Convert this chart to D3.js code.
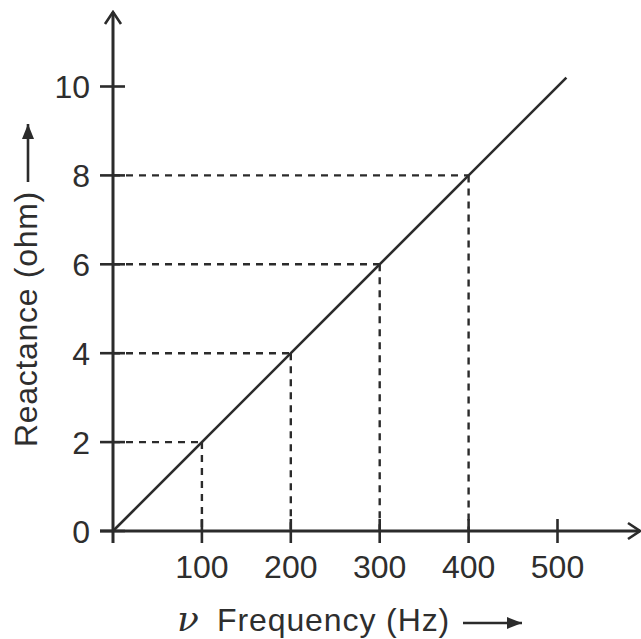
<!DOCTYPE html>
<html>
<head>
<meta charset="utf-8">
<script src="https://cdn.jsdelivr.net/npm/d3@7"></script>
<style>
  body { margin: 0; background: #fff; }
  svg { display: block; }
  text { font-family: "Liberation Sans", Arial, sans-serif; fill: #2e2e2e; }
</style>
</head>
<body>
<svg id="chart" width="641" height="639"></svg>
<script>
// data
var freqTicks = [100, 200, 300, 400, 500];
var reactTicks = [0, 2, 4, 6, 8, 10];
var lineFreq = [0, 510];
var lineReact = [0, 10.2];
var guideFreq = [100, 200, 300, 400];
var guideReact = [2, 4, 6, 8];

var ink = "#2b2b2b";
var svg = d3.select("#chart");

var x = d3.scaleLinear()
    .domain([0, 500])
    .range([113, 557.5]);

var y = d3.scaleLinear()
    .domain([0, 10])
    .range([531, 86.5]);

// arrowheads
var defs = svg.append("defs");
defs.append("marker")
    .attr("id", "open")
    .attr("viewBox", "0 0 20 20")
    .attr("refX", 18).attr("refY", 10)
    .attr("markerWidth", 20).attr("markerHeight", 20)
    .attr("markerUnits", "userSpaceOnUse")
    .attr("orient", "auto")
    .append("path")
    .attr("d", "M6,2 L18,10 L6,18")
    .attr("fill", "none")
    .attr("stroke", ink)
    .attr("stroke-width", 2.6);
defs.append("marker")
    .attr("id", "solid")
    .attr("viewBox", "0 0 16 16")
    .attr("refX", 15).attr("refY", 8)
    .attr("markerWidth", 16).attr("markerHeight", 16)
    .attr("markerUnits", "userSpaceOnUse")
    .attr("orient", "auto")
    .append("path")
    .attr("d", "M0,2 L15,8 L0,14 Z")
    .attr("fill", ink);

// dashed guide lines
var guides = guideFreq.map(function(f, i) { return {f: f, r: guideReact[i]}; });

svg.selectAll(".hguide")
    .data(guides)
    .enter().append("line")
    .attr("x1", x(0)).attr("x2", function(d) { return x(d.f); })
    .attr("y1", function(d) { return y(d.r); })
    .attr("y2", function(d) { return y(d.r); })
    .attr("stroke", ink).attr("stroke-width", 2.4)
    .attr("stroke-dasharray", "7,6");

svg.selectAll(".vguide")
    .data(guides)
    .enter().append("line")
    .attr("x1", function(d) { return x(d.f); })
    .attr("x2", function(d) { return x(d.f); })
    .attr("y1", function(d) { return y(d.r); })
    .attr("y2", y(0))
    .attr("stroke", ink).attr("stroke-width", 2.4)
    .attr("stroke-dasharray", "7,6");

// reactance line
var pts = lineFreq.map(function(f, i) { return [f, lineReact[i]]; });
svg.append("path")
    .datum(pts)
    .attr("d", d3.line()
        .x(function(d) { return x(d[0]); })
        .y(function(d) { return y(d[1]); }))
    .attr("fill", "none")
    .attr("stroke", ink)
    .attr("stroke-width", 2.6);

// axes
svg.append("line")
    .attr("x1", x(0)).attr("x2", x(0))
    .attr("y1", y(0) + 12).attr("y2", 12)
    .attr("stroke", ink).attr("stroke-width", 3)
    .attr("marker-end", "url(#open)");

svg.append("line")
    .attr("x1", x(0) - 13).attr("x2", 640)
    .attr("y1", y(0)).attr("y2", y(0))
    .attr("stroke", ink).attr("stroke-width", 3)
    .attr("marker-end", "url(#open)");

// x ticks and labels
svg.selectAll(".xtick")
    .data(freqTicks)
    .enter().append("line")
    .attr("x1", function(d) { return x(d); })
    .attr("x2", function(d) { return x(d); })
    .attr("y1", y(0) - 12).attr("y2", y(0) + 12)
    .attr("stroke", ink).attr("stroke-width", 2.6);

svg.selectAll(".xlab")
    .data(freqTicks)
    .enter().append("text")
    .attr("x", function(d) { return x(d); })
    .attr("y", 578)
    .attr("text-anchor", "middle")
    .style("font-size", "32px")
    .text(function(d) { return d; });

// y ticks and labels
svg.selectAll(".ytick")
    .data(reactTicks)
    .enter().append("line")
    .attr("x1", x(0) - 13).attr("x2", x(0) + 12)
    .attr("y1", function(d) { return y(d); })
    .attr("y2", function(d) { return y(d); })
    .attr("stroke", ink).attr("stroke-width", 2.6);

svg.selectAll(".ylab")
    .data(reactTicks)
    .enter().append("text")
    .attr("x", 90)
    .attr("y", function(d) { return y(d) + 11.5; })
    .attr("text-anchor", "end")
    .style("font-size", "32px")
    .text(function(d) { return d; });

// x axis title
svg.append("text")
    .attr("x", 177).attr("y", 631)
    .style("font-family", "'DejaVu Serif', serif")
    .style("font-style", "italic")
    .style("font-size", "36px")
    .text("ν");

svg.append("text")
    .attr("x", 217).attr("y", 631)
    .style("font-size", "32px")
    .style("letter-spacing", "0.9px")
    .text("Frequency (Hz)");

svg.append("line")
    .attr("x1", 463).attr("x2", 522)
    .attr("y1", 623).attr("y2", 623)
    .attr("stroke", ink).attr("stroke-width", 2.6)
    .attr("marker-end", "url(#solid)");

// y axis title
svg.append("text")
    .attr("transform", "translate(37,447) rotate(-90)")
    .style("font-size", "32px")
    .style("letter-spacing", "0.7px")
    .text("Reactance (ohm)");

svg.append("line")
    .attr("x1", 28).attr("x2", 28)
    .attr("y1", 182).attr("y2", 124)
    .attr("stroke", ink).attr("stroke-width", 2.6)
    .attr("marker-end", "url(#solid)");
</script>
</body>
</html>
